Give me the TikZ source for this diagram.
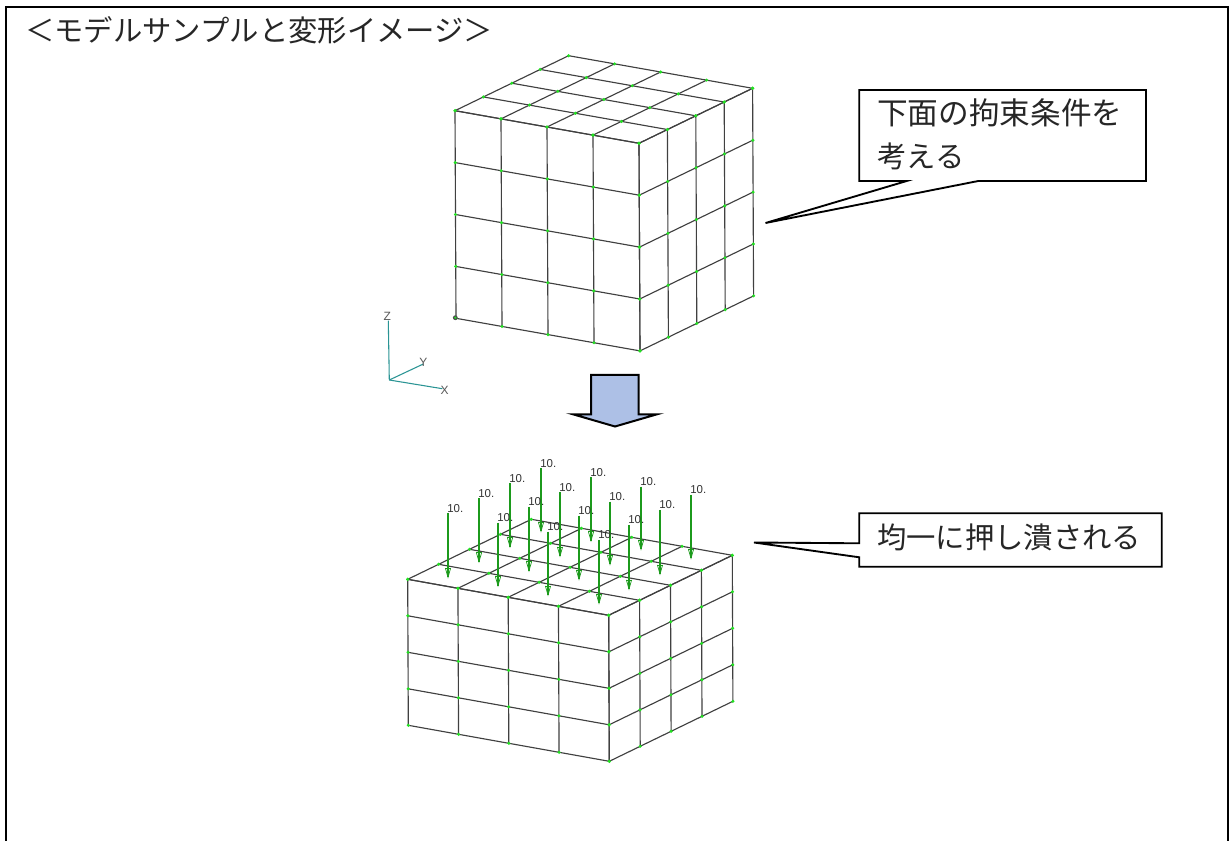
\documentclass[tikz,border=0pt]{standalone}
\usepackage{fontspec}
\setmainfont{Noto Sans CJK JP}
\newfontfamily\latinfont{Liberation Sans}
\definecolor{mesh}{HTML}{404040}
\definecolor{nodegreen}{HTML}{22E022}
\definecolor{loadgreen}{HTML}{1C9A1C}
\definecolor{axisteal}{HTML}{2A9494}
\definecolor{blockblue}{HTML}{ADC0E6}
\tikzset{
  meshline/.style={draw=mesh,line width=0.85pt},
  meshdot/.style={fill=nodegreen,draw=none},
  loadline/.style={draw=loadgreen,line width=0.8pt},
  loadlabel/.style={font=\latinfont\fontsize{8.6pt}{9pt}\selectfont,text=black!80,inner sep=0pt,anchor=west},
  axisline/.style={draw=axisteal,line width=0.8pt},
  axislabel/.style={font=\latinfont\fontsize{9pt}{10pt}\selectfont,text=black!65,inner sep=0pt},
  callout/.style={draw=black,fill=white,line width=1.4pt,line join=miter},
  jptext/.style={inner sep=0pt,anchor=west,text=black!85},
}
% origin F, vectors a (to left), b (to right), c (down)
\newcommand{\meshcube}[8]{%
  \def\Fx{#1}\def\Fy{#2}\def\ax{#3}\def\ay{#4}\def\bx{#5}\def\by{#6}\def\cx{#7}\def\cy{#8}%
  \foreach \n in {0,...,4}{%
    % front face
    \draw[meshline] ({\Fx+\n*\ax},{\Fy+\n*\ay}) -- ({\Fx+\n*\ax+4*\cx},{\Fy+\n*\ay+4*\cy});
    \draw[meshline] ({\Fx+\n*\cx},{\Fy+\n*\cy}) -- ({\Fx+4*\ax+\n*\cx},{\Fy+4*\ay+\n*\cy});
    % right face
    \draw[meshline] ({\Fx+\n*\bx},{\Fy+\n*\by}) -- ({\Fx+\n*\bx+4*\cx},{\Fy+\n*\by+4*\cy});
    \draw[meshline] ({\Fx+\n*\cx},{\Fy+\n*\cy}) -- ({\Fx+4*\bx+\n*\cx},{\Fy+4*\by+\n*\cy});
    % top face
    \draw[meshline] ({\Fx+\n*\ax},{\Fy+\n*\ay}) -- ({\Fx+\n*\ax+4*\bx},{\Fy+\n*\ay+4*\by});
    \draw[meshline] ({\Fx+\n*\bx},{\Fy+\n*\by}) -- ({\Fx+\n*\bx+4*\ax},{\Fy+\n*\by+4*\ay});
  }
  \foreach \u in {0,...,4}{\foreach \v in {0,...,4}{%
    \fill[meshdot] ({\Fx+\u*\ax+\v*\cx},{\Fy+\u*\ay+\v*\cy}) circle (1.7);
    \fill[meshdot] ({\Fx+\u*\bx+\v*\cx},{\Fy+\u*\by+\v*\cy}) circle (1.7);
    \fill[meshdot] ({\Fx+\u*\ax+\v*\bx},{\Fy+\u*\ay+\v*\by}) circle (1.7);
  }}%
}
\newcommand{\loadarrow}[4]{% name, x, top y, tip y
  \draw[loadline] (#2,#3) -- (#2,#4);
  \draw[loadline,line width=0.55pt] (#2-2.6,#4-9) -- (#2,#4) -- (#2+2.6,#4-9);
  \draw[loadline,line width=0.45pt] (#2-2.6,#4-9) -- (#2+2.6,#4-9);
  \node[loadlabel] (#1) at (#2-1,#3-5) {10.};
}
\begin{document}
\begin{tikzpicture}[x=0.75pt,y=-0.75pt]
\useasboundingbox (0,0) rectangle (1232,841);
\fill[white] (0,0) rectangle (1232,841);
% frame
\draw[black,line width=1.5pt] (6,841) -- (6,7) -- (1228,7) -- (1228,841);
\node[jptext,font=\fontsize{22pt}{26pt}\selectfont] (title) at (25,30) {＜モデルサンプルと変形イメージ＞};
% upper cube
\meshcube{639}{143.3}{-46}{-8.15}{28.4}{-13.75}{0.25}{51.9}
\fill[black!70] (455.3,317.7) circle (2.4);
\fill[nodegreen] (455.3,317.7) circle (1.2);
% axes
\coordinate (axo) at (389.3,380);
\coordinate (axz) at (388.3,320.7);
\coordinate (axy) at (423.3,364);
\coordinate (axx) at (442.3,388.7);
\draw[axisline] (axo) -- (axz);
\draw[axisline] (axo) -- (axy);
\draw[axisline] (axo) -- (axx);
\node[axislabel] (lz) at (387.3,316) {Z};
\node[axislabel] (ly) at (423.3,362.5) {Y};
\node[axislabel] (lx) at (444.7,390.3) {X};
% block arrow
\draw[black,fill=blockblue,line width=1.5pt,line join=miter]
  (591,375) -- (638.7,375) -- (638.7,414.3) -- (657,414.3) -- (615,426.5) -- (573,414.3) -- (591,414.3) -- cycle;
% lower cube
\meshcube{608.7}{615.3}{-50.25}{-9}{30.9}{-15}{0.15}{36.5}
% loads
\loadarrow{f1}{448}{513.3}{577.3}
\loadarrow{f2}{479}{498.3}{561.7}
\loadarrow{f3}{510}{483.3}{546.7}
\loadarrow{f4}{541}{468.3}{531.3}
\loadarrow{f5}{498}{522.7}{585.7}
\loadarrow{f6}{529}{506.7}{570.7}
\loadarrow{f7}{560}{492.3}{556}
\loadarrow{f8}{591}{477.3}{540.7}
\loadarrow{f9}{548}{531.7}{595}
\loadarrow{f10}{579}{515.7}{579.3}
\loadarrow{f11}{610}{501.7}{564.3}
\loadarrow{f12}{641}{486.7}{549.3}
\loadarrow{f13}{599}{540}{603.3}
\loadarrow{f14}{629}{525}{589}
\loadarrow{f15}{660}{510}{574}
\loadarrow{f16}{691}{495}{558.3}
% callouts
\draw[callout] (859.3,90) -- (1146,90) -- (1146,181) -- (978.3,181) -- (765.5,223) -- (906.7,181) -- (859.3,181) -- cycle;
\node[jptext,font=\fontsize{23pt}{26pt}\selectfont] (c1a) at (877,113) {下面の拘束条件を};
\node[jptext,font=\fontsize{22pt}{26pt}\selectfont] (c1b) at (877,156) {考える};
\draw[callout] (859.3,513.3) -- (1161.7,513.3) -- (1161.7,566.7) -- (859.3,566.7) -- (859.3,557.3) -- (754,542.5) -- (859.3,543.3) -- cycle;
\node[jptext,font=\fontsize{22pt}{26pt}\selectfont] (c2) at (877,537) {均一に押し潰される};
\end{tikzpicture}
\end{document}
